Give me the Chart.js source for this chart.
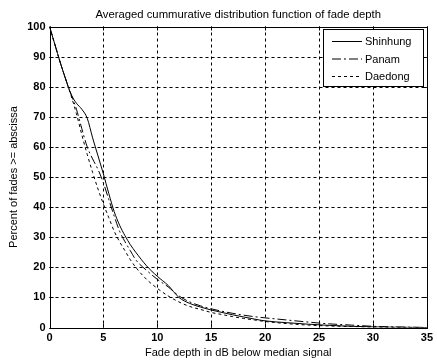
<!DOCTYPE html>
<html><head><meta charset="utf-8">
<script src="https://cdn.jsdelivr.net/npm/chart.js@4/dist/chart.umd.min.js"></script>
<style>html,body{margin:0;padding:0;background:#fff}#wrap{width:437px;height:360px}</style>
</head><body><div id="wrap"><canvas id="c" width="437" height="360"></canvas></div>
<script>
const fadeDepth = [0,0.5,1,1.5,2,2.5,3,3.5,4,4.5,5,5.5,6,6.5,7,7.5,8,9,10,11,12,13,14,15,16,17,18,19,20,22,24,26,28,30,32,35];
const shinhung = [100,94,88,82.5,77.5,74.5,72.5,69.5,63,57,51,44.5,38.5,34,30.5,27.5,25,20.5,17,14,10,8,6.8,5.8,5,4.2,3.5,2.8,2.2,1.6,1.1,0.7,0.4,0.2,0.1,0];
const panam = [100,94,88,82.5,77.5,72.5,66,60,56,52.5,48,42.5,37,32,28.5,25.5,22.5,19,16,13.5,10.5,8.5,7.2,6.2,5.4,4.7,4.1,3.6,3.2,2.5,1.8,1.2,0.8,0.4,0.2,0];
const daedong = [100,94,88,82.5,77,71,64,57.5,51.5,46,41,36.5,32,28.5,25.5,22.5,20,16,13,10.5,8.5,7,6,5,4.3,3.6,3,2.5,2,1.3,0.8,0.5,0.3,0.1,0,0];
const seriesNames = ['Shinhung','Panam','Daedong'];
const xTicks = [0,5,10,15,20,25,30,35];
const yTicks = [0,10,20,30,40,50,60,70,80,90,100];
const chartTitle = 'Averaged cummurative distribution function of fade depth';

const FONT = 'Liberation Sans, Arial, sans-serif';
const pts = arr => fadeDepth.map((x,i)=>({x:x,y:arr[i]}));
const dashes = [[], [9,3,2,3], [3,3]];
const series = [shinhung, panam, daedong];

const plotTitle = {
  id:'plotTitle',
  afterDraw(chart){
    const ctx = chart.ctx, a = chart.chartArea;
    ctx.save(); ctx.fillStyle='#000'; ctx.font='11.3px '+FONT;
    ctx.textAlign='center'; ctx.textBaseline='middle';
    ctx.fillText(chartTitle, (a.left+a.right)/2, a.top-12);
    ctx.restore();
  }
};
const dashedGrid = {
  id:'dashedGrid',
  beforeDatasetsDraw(chart){
    const ctx = chart.ctx, a = chart.chartArea, xs = chart.scales.x, ys = chart.scales.y;
    ctx.save(); ctx.strokeStyle='#000'; ctx.lineWidth=1; ctx.setLineDash([3,3]);
    ctx.beginPath();
    xTicks.forEach(v=>{const p=Math.round(xs.getPixelForValue(v))+0.5;
      ctx.moveTo(p,a.top); ctx.lineTo(p,a.bottom);});
    yTicks.forEach(v=>{const p=Math.round(ys.getPixelForValue(v))+0.5;
      ctx.moveTo(a.left,p); ctx.lineTo(a.right,p);});
    ctx.stroke(); ctx.restore();
  }
};
const insideLegend = {
  id:'insideLegend',
  afterDraw(chart){
    const ctx = chart.ctx, a = chart.chartArea;
    const bx = Math.round(a.right)-104, by = Math.round(a.top)+2, bw = 100, bh = 57;
    ctx.save();
    ctx.fillStyle='#fff'; ctx.fillRect(bx,by,bw,bh);
    ctx.strokeStyle='#000'; ctx.lineWidth=1; ctx.setLineDash([]);
    ctx.strokeRect(bx+0.5,by+0.5,bw,bh);
    chart.data.datasets.forEach((ds,i)=>{
      const y = by + 12 + i*17.5;
      ctx.setLineDash(ds.borderDash||[]);
      ctx.beginPath(); ctx.moveTo(bx+9,y+0.5); ctx.lineTo(bx+39,y+0.5); ctx.stroke();
      ctx.setLineDash([]);
      ctx.fillStyle='#000'; ctx.font='11px '+FONT; ctx.textBaseline='middle'; ctx.textAlign='left';
      ctx.fillText(ds.label, bx+42, y+1);
    });
    ctx.restore();
  }
};
const innerTicks = {
  id:'innerTicks',
  afterDatasetsDraw(chart){
    const ctx = chart.ctx, a = chart.chartArea, xs = chart.scales.x, ys = chart.scales.y;
    ctx.save(); ctx.strokeStyle='#000'; ctx.lineWidth=1; ctx.setLineDash([]);
    ctx.beginPath();
    xTicks.forEach(v=>{const p=Math.round(xs.getPixelForValue(v))+0.5;
      ctx.moveTo(p,a.bottom); ctx.lineTo(p,a.bottom-4); ctx.moveTo(p,a.top); ctx.lineTo(p,a.top+4);});
    yTicks.forEach(v=>{const p=Math.round(ys.getPixelForValue(v))+0.5;
      ctx.moveTo(a.left,p); ctx.lineTo(a.left+4,p); ctx.moveTo(a.right,p); ctx.lineTo(a.right-4,p);});
    ctx.stroke();
    ctx.strokeRect(Math.round(a.left)+0.5,Math.round(a.top)+0.5,Math.round(a.right-a.left),Math.round(a.bottom-a.top));
    ctx.restore();
  }
};

new Chart(document.getElementById('c'), {
  type:'line',
  data:{datasets: series.map((s,i)=>({
    label: seriesNames[i], data: pts(s), borderColor:'#000', borderWidth:1,
    borderDash: dashes[i], pointRadius:0, fill:false, cubicInterpolationMode:'monotone'
  }))},
  options:{
    responsive:false, animation:false,
    layout:{padding:{left:0,right:7,top:26.5,bottom:0}},
    plugins:{ legend:{display:false}, tooltip:{enabled:false}, title:{display:false} },
    scales:{
      x:{type:'linear', min:0, max:35,
        afterBuildTicks(s){ s.ticks = xTicks.map(v=>({value:v})); },
        afterFit(s){ s.height = 32.5; },
        ticks:{color:'#000', font:{family:FONT,size:11,weight:'bold'}, padding:4, maxRotation:0},
        grid:{display:false, tickLength:0},
        border:{display:false},
        title:{display:true, text:'Fade depth in dB below median signal', color:'#000',
          font:{family:FONT,size:11}, padding:{top:1,bottom:0}}
      },
      y:{type:'linear', min:0, max:100,
        afterBuildTicks(s){ s.ticks = yTicks.map(v=>({value:v})); },
        afterFit(s){ s.width = 49.5; },
        ticks:{color:'#000', font:{family:FONT,size:11,weight:'bold'}, padding:4},
        grid:{display:false, tickLength:0},
        border:{display:false},
        title:{display:true, text:'Percent of fades >= abscissa', color:'#000',
          font:{family:FONT,size:11}, padding:{top:7,bottom:0}}
      }
    }
  },
  plugins:[dashedGrid, innerTicks, insideLegend, plotTitle]
});
</script></body></html>
